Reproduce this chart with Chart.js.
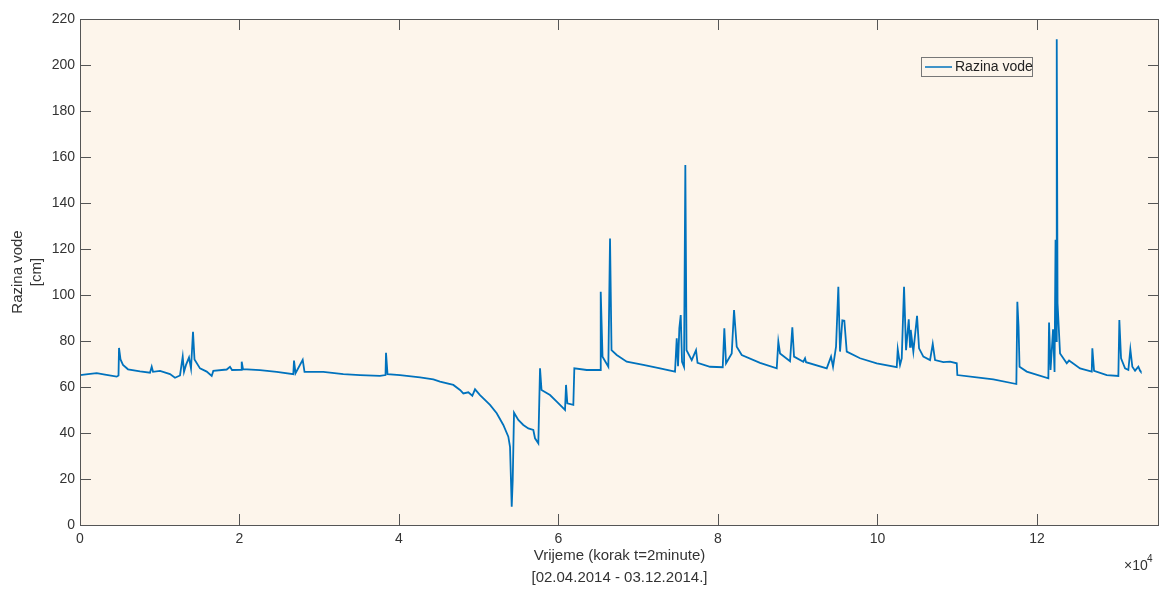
<!DOCTYPE html>
<html>
<head>
<meta charset="utf-8">
<script src="https://cdn.jsdelivr.net/npm/chart.js@4"></script>
<style>
  html, body { margin: 0; padding: 0; background: #fff; }
  #wrap { width: 1160px; height: 590px; position: relative; }
</style>
</head>
<body>
<div id="wrap"><canvas id="myChart"></canvas></div>
<script>
// vrijeme u koracima od 2 minute
var vrijeme = [0, 1003, 2094, 3135, 4602, 4828, 4891, 5079, 5392, 6019, 7524, 8778, 8991, 9154, 10032, 11286,
  11913, 12540, 12879, 13042, 13292, 13669, 13919, 14170, 14358, 15048, 15888, 16515, 16716, 18396, 18810,
  19061, 20189, 20277, 20440, 22572, 24666, 26748, 26836, 27024, 27927, 28152, 30510, 33018, 35112, 37620,
  38310, 38372, 38561, 40128, 42636, 44304, 45144, 46813, 47652, 48066, 48693, 49194, 49533, 50160, 51414,
  52254, 53082, 53709, 53922, 54135, 54261, 54424, 54963, 55590, 56217, 56844, 57057, 57471, 57684, 57872,
  58938, 59778, 60819, 60944, 61107, 61860, 61986, 63540, 65208, 65296, 65522, 66249, 66462, 66650, 67302,
  68556, 70638, 72732, 74613, 74826, 74989, 75152, 75328, 75491, 75742, 75905, 76055, 76707, 77246, 77435,
  79002, 80595, 80795, 81008, 81723, 82012, 82350, 82977, 85272, 87366, 87567, 87780, 89034, 89322, 89536,
  90702, 90915, 91040, 93636, 94175, 94426, 94802, 95091, 95304, 95592, 95843, 96144, 97812, 99906, 102414,
  102540, 102828, 103041, 103330, 103580, 103919, 104082, 104170, 104496, 104960, 105211, 105750, 106590,
  106929, 107217, 108258, 109098, 109938, 110013, 112446, 114528, 117412, 117537, 117688, 117813, 118716,
  121425, 121513, 121701, 122014, 122202, 122328, 122390, 122478, 122579, 122892, 123732, 124021, 125400,
  126867, 126942, 127156, 128748, 130203, 130328, 130541, 131043, 131457, 131708, 131958, 132297, 132711,
  132924, 133012];

// razina vode [cm]
var razina = [65.2, 65.6, 66, 65.4, 64.5, 65, 77, 72, 69.6, 67.7, 66.8, 66.2, 68.8, 66.6, 67, 65.6,
  64, 65, 73.2, 66.6, 69.6, 72.8, 68, 84, 72, 68.1, 66.7, 64.8, 67, 67.6, 68.8,
  67.4, 67.5, 71, 67.8, 67.3, 66.6, 65.6, 71.5, 66, 71.8, 66.6, 66.6, 65.6, 65.2, 64.8,
  65.2, 74.9, 65.6, 65.2, 64.2, 63.3, 62.3, 60.9, 58.7, 57.2, 57.7, 56.2, 59, 56.5, 52.2,
  48.6, 43.5, 38.4, 34, 8, 19.6, 48.8, 45.7, 43.5, 42, 41.3, 37.7, 35.5, 68.1, 58.7,
  56.5, 53.6, 50, 60.9, 52.9, 52.2, 68.1, 67.4, 67.4, 101.4, 73.2, 68.8, 124.6, 76, 73.9,
  71, 69.6, 68.1, 66.7, 81.2, 69, 85.5, 91.3, 71, 68.8, 156.5, 76, 71.7, 76, 70.5,
  68.8, 68.6, 85.5, 70.3, 74.6, 93.5, 77.5, 73.9, 70.5, 68.1, 79.7, 74.6, 71.2, 86, 73.2,
  71, 72.5, 70.8, 68.1, 73.2, 68.8, 77.5, 103.6, 75.4, 89, 88.8, 75.4, 72.5, 70.3, 68.6,
  76.4, 69.6, 72.5, 103.6, 76, 89.4, 77.5, 84.8, 75.4, 90.9, 76.8, 73.2, 71.7,
  78.7, 71.7, 70.8, 71, 70.3, 65.2, 64.2, 63.3, 61.3, 97.1, 86.2, 68.8, 66.7,
  63.8, 88, 67.4, 85.1, 66.5, 124, 80, 211.2, 96.4, 74.6, 70.3, 71.5, 68.1,
  66.7, 76.8, 67, 65.2, 64.8, 89.1, 72.5, 68.1, 67.4, 76.4, 68.8, 67.1, 68.8,
  67.1, 66.7];

var yTicks = [0, 20, 40, 60, 80, 100, 120, 140, 160, 180, 200, 220];
var xTicks = [0, 20000, 40000, 60000, 80000, 100000, 120000];
var xTickLabels = ['0', '2', '4', '6', '8', '10', '12'];

var tocke = vrijeme.map(function (t, i) { return { x: t, y: razina[i] }; });

var AXIS = '#555555';
var TEXT = '#333333';
var FONT = '"Liberation Sans", Arial, sans-serif';

var matlabOkvir = {
  id: 'matlabOkvir',
  beforeDatasetsDraw: function (chart) {
    var ctx = chart.ctx, a = chart.chartArea;
    ctx.save();
    ctx.fillStyle = '#FDF5EB';
    ctx.fillRect(a.left, a.top, a.right - a.left, a.bottom - a.top);
    ctx.restore();
  },
  afterDraw: function (chart) {
    var ctx = chart.ctx, a = chart.chartArea;
    var xs = chart.scales.x, ys = chart.scales.y;
    var tl = 11;
    ctx.save();
    ctx.strokeStyle = AXIS;
    ctx.lineWidth = 1;
    ctx.beginPath();
    xs.ticks.forEach(function (t) {
      var px = Math.round(xs.getPixelForValue(t.value)) + 0.5;
      ctx.moveTo(px, a.bottom); ctx.lineTo(px, a.bottom - tl);
      ctx.moveTo(px, a.top); ctx.lineTo(px, a.top + tl);
    });
    ys.ticks.forEach(function (t) {
      var py = Math.round(ys.getPixelForValue(t.value)) + 0.5;
      ctx.moveTo(a.left, py); ctx.lineTo(a.left + tl, py);
      ctx.moveTo(a.right, py); ctx.lineTo(a.right - tl, py);
    });
    ctx.stroke();
    ctx.strokeRect(Math.round(a.left) + 0.5, Math.round(a.top) + 0.5,
      Math.round(a.right - a.left) - 1, Math.round(a.bottom - a.top));

    // naslovi osi
    ctx.fillStyle = TEXT;
    ctx.font = '15px ' + FONT;
    ctx.textAlign = 'center';
    ctx.textBaseline = 'middle';
    var cx = (a.left + a.right) / 2;
    ctx.fillText('Vrijeme (korak t=2minute)', cx, 556);
    ctx.fillText('[02.04.2014 - 03.12.2014.]', cx, 578);
    ctx.save();
    ctx.translate(18, (a.top + a.bottom) / 2);
    ctx.rotate(-Math.PI / 2);
    ctx.fillText('Razina vode', 0, 0);
    ctx.fillText('[cm]', 0, 19);
    ctx.restore();

    // x10^4
    ctx.textAlign = 'left';
    ctx.font = '14px ' + FONT;
    ctx.fillText('\u00d710', 1124, 566);
    ctx.font = '10px ' + FONT;
    ctx.fillText('4', 1147, 559);

    // legenda
    ctx.strokeStyle = '#777';
    ctx.strokeRect(921.5, 57.5, 111, 19);
    ctx.strokeStyle = chart.data.datasets[0].borderColor;
    ctx.lineWidth = 1.5;
    ctx.beginPath();
    ctx.moveTo(925, 67); ctx.lineTo(952, 67);
    ctx.stroke();
    ctx.fillStyle = '#222';
    ctx.font = '14px ' + FONT;
    ctx.fillText(chart.data.datasets[0].label, 955, 67.5);
    ctx.restore();
  }
};

function grafik() {
  const ctx = document.getElementById('myChart');
  new Chart(ctx, {
    type: 'line',
    data: {
      datasets: [{
        label: 'Razina vode',
        data: tocke,
        borderColor: '#0072BD',
        borderWidth: 1.8,
        pointRadius: 0,
        tension: 0,
        fill: false
      }]
    },
    options: {
      responsive: true,
      maintainAspectRatio: false,
      animation: false,
      layout: { padding: { top: 19, right: 1, left: 0, bottom: 0 } },
      plugins: { legend: { display: false }, tooltip: { enabled: false } },
      scales: {
        x: {
          type: 'linear',
          min: 0,
          max: 135300,
          grid: { display: false, drawTicks: false },
          border: { display: false },
          afterBuildTicks: function (s) {
            s.ticks = xTicks.map(function (v) { return { value: v }; });
          },
          ticks: {
            autoSkip: false,
            padding: 6,
            color: TEXT,
            font: { size: 14, family: FONT },
            maxRotation: 0,
            minRotation: 0,
            callback: function (v) { return xTickLabels[xTicks.indexOf(v)]; }
          },
          afterFit: function (s) { s.height = 65; }
        },
        y: {
          min: yTicks[0],
          max: yTicks[yTicks.length - 1],
          grid: { display: false, drawTicks: false },
          border: { display: false },
          afterBuildTicks: function (s) {
            s.ticks = yTicks.map(function (v) { return { value: v }; });
          },
          ticks: {
            autoSkip: false,
            padding: 5,
            color: TEXT,
            font: { size: 14, family: FONT }
          },
          afterFit: function (s) { s.width = 80; }
        }
      }
    },
    plugins: [matlabOkvir]
  });
}

grafik();
</script>
</body>
</html>
